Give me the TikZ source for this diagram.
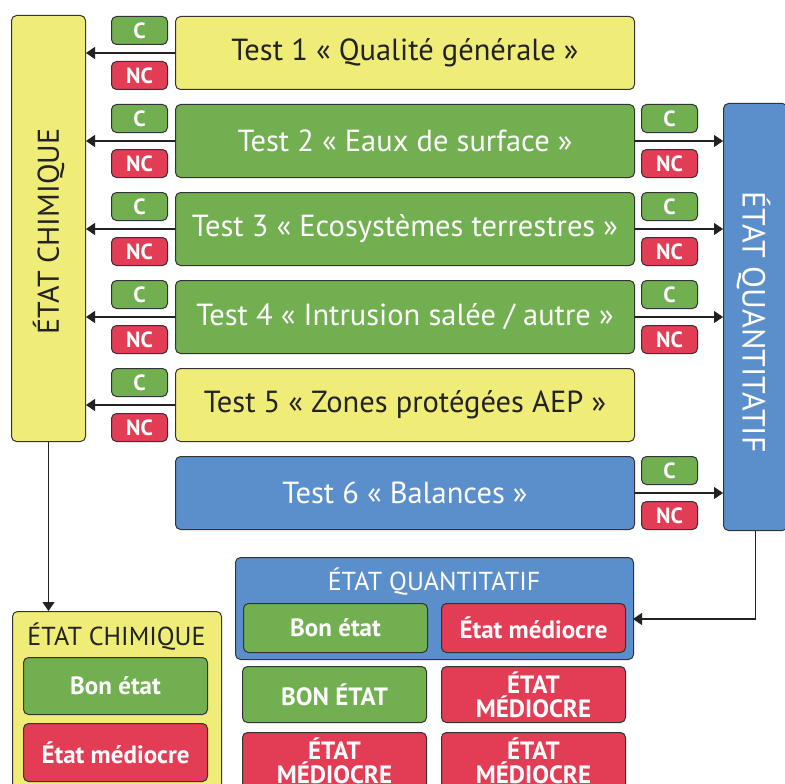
\documentclass[tikz,border=0pt]{standalone}
\usepackage{fontspec}
\setmainfont{PT Sans}
\usetikzlibrary{arrows.meta}
\definecolor{cyel}{HTML}{F0EC78}
\definecolor{cgrn}{HTML}{72AF50}
\definecolor{cred}{HTML}{E33C55}
\definecolor{cblu}{HTML}{5B8FCB}
\definecolor{cedge}{HTML}{333333}
\definecolor{ctxt}{HTML}{222222}
\tikzset{
  box/.style={draw=cedge, line width=1pt, rounded corners=5pt, inner sep=0pt, anchor=north west, align=center},
  yel/.style={box, fill=cyel, text=ctxt},
  grn/.style={box, fill=cgrn, text=white},
  red/.style={box, fill=cred, text=white},
  blu/.style={box, fill=cblu, text=white},
  testbox/.style={minimum width=459pt, minimum height=73pt, font=\fontsize{30.5}{32}\selectfont},
  badge/.style={minimum width=56pt, minimum height=28pt, font=\bfseries\fontsize{22}{24}\selectfont},
  cbadge/.style={grn, badge},
  ncbadge/.style={red, badge},
  smallbox/.style={minimum width=184pt, font=\bfseries\fontsize{25}{26}\selectfont},
  arr/.style={draw=ctxt, line width=1.2pt, -{Triangle[length=9pt,width=12pt]}},
}
\begin{document}
\begin{tikzpicture}[x=1pt,y=1pt]
\useasboundingbox (0,-784) rectangle (785,0);
\clip (0,-784) rectangle (785,0);
\fill[white] (0,-784) rectangle (785,0);
% vertical boxes
\node[yel, minimum width=74pt, minimum height=426pt] (chim) at (11,-15) {};
\node[rotate=90, text=ctxt, font=\fontsize{30}{32}\selectfont] at ([yshift=-3pt]chim.center) {ÉTAT CHIMIQUE};
\node[blu, minimum width=64pt, minimum height=427pt] (quant) at (723,-103) {};
\node[rotate=-90, text=white, font=\fontsize{32}{34}\selectfont] at ([xshift=-2pt,yshift=-5pt]quant.center) {ÉTAT QUANTITATIF};
% tests
\node[yel, testbox] (t1) at (175,-16) {Test 1 « Qualité générale »};
\node[grn, testbox] (t2) at (175,-104) {Test 2 « Eaux de surface »};
\node[grn, testbox] (t3) at (175,-192) {Test 3 « Ecosystèmes terrestres »};
\node[grn, testbox] (t4) at (175,-280) {Test 4 « Intrusion salée / autre »};
\node[yel, testbox] (t5) at (175,-368) {Test 5 « Zones protégées AEP »};
\node[blu, testbox] (t6) at (175,-456) {Test 6 « Balances »};
% left badges
\node[cbadge] (c1) at (111,-16) {C};   \node[ncbadge] (n1) at (111,-61) {NC};
\node[cbadge] (c2) at (111,-104) {C};  \node[ncbadge] (n2) at (111,-149) {NC};
\node[cbadge] (c3) at (111,-192) {C};  \node[ncbadge] (n3) at (111,-237) {NC};
\node[cbadge] (c4) at (111,-280) {C};  \node[ncbadge] (n4) at (111,-325) {NC};
\node[cbadge] (c5) at (111,-368) {C};  \node[ncbadge] (n5) at (111,-413) {NC};
% right badges
\node[cbadge] (rc2) at (641,-104) {C};  \node[ncbadge] (rn2) at (641,-149) {NC};
\node[cbadge] (rc3) at (641,-192) {C};  \node[ncbadge] (rn3) at (641,-237) {NC};
\node[cbadge] (rc4) at (641,-280) {C};  \node[ncbadge] (rn4) at (641,-325) {NC};
\node[cbadge] (rc6) at (641,-456) {C};  \node[ncbadge] (rn6) at (641,-501) {NC};
% arrows left
\foreach \t in {t1,t2,t3,t4,t5}{
  \draw[arr] (\t.west) -- (\t.west -| chim.east);
}
\foreach \t in {t2,t3,t4,t6}{
  \draw[arr] (\t.east) -- (\t.east -| quant.west);
}
% bottom chimique
\node[yel, minimum width=209pt, minimum height=190pt] (bchim) at (12,-611) {};
\node[text=ctxt, font=\fontsize{26}{28}\selectfont] (bchimt) at (116.5,-637) {ÉTAT CHIMIQUE};
\node[grn, smallbox, minimum height=57pt] (cbon) at (23,-657) {Bon état};
\node[red, smallbox, minimum height=58pt] (cmed) at (23,-723) {État médiocre};
\draw[arr] (chim.south) -- (chim.south |- bchim.north);
% bottom quantitatif
\node[blu, minimum width=398pt, minimum height=102pt] (bq) at (235,-557) {};
\node[text=white, font=\fontsize{26}{28}\selectfont] (bqt) at (434,-582) {ÉTAT QUANTITATIF};
\node[grn, smallbox, minimum height=49pt] (qbon) at (243,-603) {Bon état};
\node[red, smallbox, minimum height=49pt] (qmed) at (441,-603) {État médiocre};
\coordinate (qin) at (633,-619);
\draw[arr] (quant.south) |- (qin);
% result grid
\node[grn, smallbox, minimum height=56pt] (r1) at (242,-666) {BON ÉTAT};
\node[red, smallbox, minimum height=56pt] (r2) at (441,-666) {ÉTAT\\[-2pt]MÉDIOCRE};
\node[red, smallbox, minimum height=56pt] (r3) at (242,-732) {ÉTAT\\[-2pt]MÉDIOCRE};
\node[red, smallbox, minimum height=56pt] (r4) at (441,-732) {ÉTAT\\[-2pt]MÉDIOCRE};
\end{tikzpicture}
\end{document}
